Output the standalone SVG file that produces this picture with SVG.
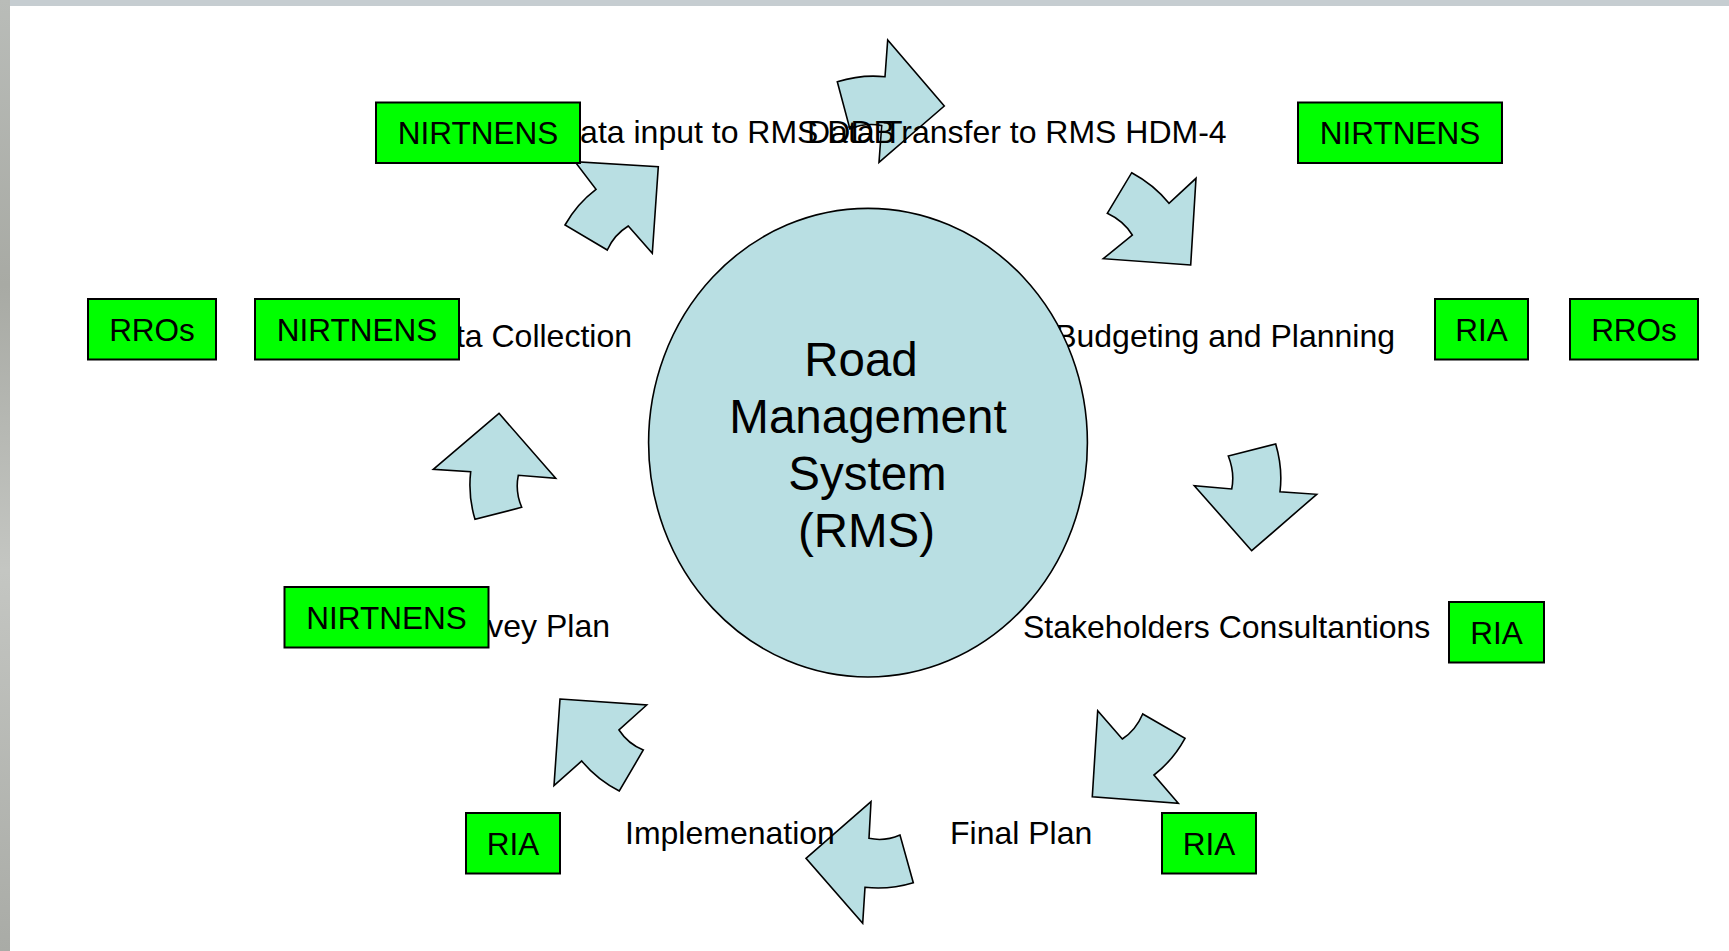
<svg xmlns="http://www.w3.org/2000/svg" width="1729" height="951" viewBox="0 0 1729 951">
<defs>
<linearGradient id="edge" x1="0" y1="0" x2="0" y2="1">
<stop offset="0" stop-color="#b9bcb8"/><stop offset="0.3" stop-color="#a8aaa4"/><stop offset="0.6" stop-color="#c4c6c2"/><stop offset="1" stop-color="#a9aba6"/>
</linearGradient>
<style>
.lbl{font-family:"Liberation Sans",Arial,sans-serif;font-size:32px;fill:#000}
.box rect{fill:#00ff00;stroke:#000;stroke-width:2}
.box text{font-family:"Liberation Sans",Arial,sans-serif;font-size:31.5px;fill:#000;text-anchor:middle}
.arr{fill:#b9dfe3;stroke:#000;stroke-width:1.6;stroke-linejoin:miter}
.hub{fill:#b9dfe3;stroke:#000;stroke-width:1.6}
.hubt{font-family:"Liberation Sans",Arial,sans-serif;font-size:47.5px;fill:#000;text-anchor:middle}
</style>
</defs>
<rect x="0" y="0" width="1729" height="951" fill="#c6cdd1"/>
<rect x="0" y="0" width="10" height="951" fill="url(#edge)"/>
<rect x="10" y="6" width="1719" height="945" fill="#ffffff"/>

<g id="connectors">
<path id="arrow-a" class="arr" d="M658.3,166.7 L652.3,253.3 L628.3,226 Q614.1,234.7 607.3,250 L565,225 Q576.8,203.8 596,189.3 L575,161.7 Z"/>
<path id="arrow-b" class="arr" d="M944.3,106 L887.7,40 L885,76.7 Q861.4,74.2 837.3,81.7 L849.9,128.9 Q866,122.3 881.7,125.6 L879,162.3 Z"/>
<path id="arrow-c" class="arr" d="M1190.7,265 L1103.3,258.7 L1132.3,235 Q1123.7,221 1107.3,213.3 L1131.7,172.7 Q1154.2,184.8 1169,203.3 L1196,178.3 Z"/>
<path id="arrow-d" class="arr" d="M1251.7,550.7 L1194.3,485.7 L1231.7,489 Q1235,473 1228.3,456 L1275.7,444 Q1282.9,468.4 1280,491.7 L1316.7,494.3 Z"/>
<path id="arrow-f" class="arr" d="M1092.3,796.7 L1097.7,710.7 L1122.3,739 Q1135.8,730.3 1142.7,714 L1185,738.3 Q1172.8,760.5 1154,775 L1178.3,803.3 Z"/>
<path id="arrow-g" class="arr" d="M806,858.3 L871,801.7 L869,838.3 Q884.6,841.7 900,835 L913.3,882.7 Q889.3,890 865,887.3 L862.7,923.3 Z"/>
<path id="arrow-h" class="arr" d="M560,699 L646.7,705 L619,730 Q628,743.8 643.3,750 L619.3,791 Q597.3,779.8 581.7,761 L554,785.7 Z"/>
<path id="arrow-e" class="arr" d="M499,413.3 L555.7,478.3 L518.3,475.3 Q515,491.7 521.7,507.3 L475,519.3 Q467.9,495.9 470.7,471.7 L433.3,469.3 Z"/>
</g>

<g id="labels">
<text class="lbl" x="557" y="143">Data input to RMS DDB</text>
<text class="lbl" x="807" y="143">Data Transfer to RMS HDM-4</text>
<text class="lbl" x="632" y="347" text-anchor="end">Data Collection</text>
<text class="lbl" x="1395" y="347" text-anchor="end">Budgeting and Planning</text>
<text class="lbl" x="1023" y="638">Stakeholders Consultantions</text>
<text class="lbl" x="610" y="637" text-anchor="end">Survey Plan</text>
<text class="lbl" x="625" y="843.5">Implemenation</text>
<text class="lbl" x="950" y="843.5">Final Plan</text>
</g>

<g id="hub">
<ellipse class="hub" cx="868" cy="442.7" rx="219.4" ry="234.3"/>
<text class="hubt" x="861" y="376">Road</text>
<text class="hubt" x="868" y="433">Management</text>
<text class="hubt" x="867.5" y="490">System</text>
<text class="hubt" x="866.5" y="547">(RMS)</text>
</g>

<g id="box-nirtnens-tl" class="box"><rect x="376" y="102.5" width="204" height="60.5"/><text x="478" y="144">NIRTNENS</text></g>
<g id="box-nirtnens-tr" class="box"><rect x="1298" y="102.5" width="204" height="60.5"/><text x="1400" y="144">NIRTNENS</text></g>
<g id="box-rros-l" class="box"><rect x="88" y="299" width="128" height="60.5"/><text x="152" y="340.5">RROs</text></g>
<g id="box-nirtnens-ml" class="box"><rect x="255" y="299" width="204" height="60.5"/><text x="357" y="340.5">NIRTNENS</text></g>
<g id="box-ria-r" class="box"><rect x="1435" y="299" width="93" height="60.5"/><text x="1481.5" y="340.5">RIA</text></g>
<g id="box-rros-r" class="box"><rect x="1570" y="299" width="128" height="60.5"/><text x="1634" y="340.5">RROs</text></g>
<g id="box-nirtnens-ll" class="box"><rect x="284.5" y="587" width="204" height="60.5"/><text x="386.5" y="628.5">NIRTNENS</text></g>
<g id="box-ria-sc" class="box"><rect x="1449" y="602" width="95" height="60.5"/><text x="1496.5" y="643.5">RIA</text></g>
<g id="box-ria-ll" class="box"><rect x="466" y="813" width="94" height="60.5"/><text x="513" y="854.5">RIA</text></g>
<g id="box-ria-fp" class="box"><rect x="1162" y="813" width="94" height="60.5"/><text x="1209" y="854.5">RIA</text></g>
</svg>
